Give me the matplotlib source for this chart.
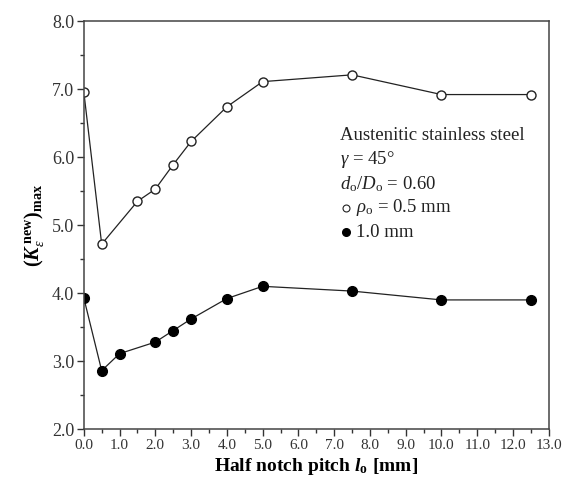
import matplotlib

matplotlib.use("Agg")
import matplotlib.pyplot as plt
from matplotlib.ticker import MultipleLocator, FormatStrFormatter

plt.rcParams["font.family"] = ["Liberation Serif", "DejaVu Serif"]
plt.rcParams["mathtext.fontset"] = "custom"
plt.rcParams["mathtext.rm"] = "Liberation Serif"
plt.rcParams["mathtext.it"] = "Liberation Serif:italic"
plt.rcParams["mathtext.bf"] = "Liberation Serif:bold"
plt.rcParams["mathtext.bfit"] = "Liberation Serif:bold:italic"

# rho_o = 0.5 mm (open circles)
pitch_05 = [0.0, 0.5, 1.5, 2.0, 2.5, 3.0, 4.0, 5.0, 7.5, 10.0, 12.5]
kmax_05 = [6.96, 4.72, 5.35, 5.53, 5.89, 6.23, 6.74, 7.11, 7.21, 6.92, 6.92]

# rho_o = 1.0 mm (filled circles)
pitch_10 = [0.0, 0.5, 1.0, 2.0, 2.5, 3.0, 4.0, 5.0, 7.5, 10.0, 12.5]
kmax_10 = [3.93, 2.86, 3.11, 3.28, 3.45, 3.62, 3.92, 4.10, 4.03, 3.90, 3.90]

note_lines = [
    "Austenitic stainless steel",
    r"$\gamma$ = 45°",
    r"$d_{\rm o}/D_{\rm o}$ = 0.60",
    r"$\rho_{\rm o}$ = 0.5 mm",
    "1.0 mm",
]

fig = plt.figure(figsize=(5.74, 4.8), dpi=100)
ax = fig.add_axes([0.146, 0.106, 0.81, 0.85])

ax.plot(pitch_05, kmax_05, color="#222222", linewidth=0.9, marker="o",
        markersize=6.5, markerfacecolor="white", markeredgecolor="#222222",
        markeredgewidth=1.0)
ax.plot(pitch_10, kmax_10, color="#222222", linewidth=0.9, marker="o",
        markersize=7, markerfacecolor="black", markeredgecolor="black")

ax.set_xlim(0, 13)
ax.set_ylim(2, 8)
ax.xaxis.set_major_locator(MultipleLocator(1.0))
ax.xaxis.set_minor_locator(MultipleLocator(0.5))
ax.yaxis.set_major_locator(MultipleLocator(1.0))
ax.yaxis.set_minor_locator(MultipleLocator(0.5))
ax.xaxis.set_major_formatter(FormatStrFormatter("%.1f"))
ax.yaxis.set_major_formatter(FormatStrFormatter("%.1f"))
ax.tick_params(which="both", direction="out", top=False, right=False,
               colors="#333333", width=1.0)
ax.tick_params(axis="x", labelsize=11)
ax.tick_params(axis="y", labelsize=13)
ax.tick_params(which="major", length=5, pad=2)
ax.tick_params(which="minor", length=3)
for spine in ax.spines.values():
    spine.set_linewidth(1.1)
    spine.set_color("#444444")

ax.set_xlabel(r"Half notch pitch $\mathbfit{l}_{\mathbf{o}}$ [mm]",
              fontsize=14, fontweight="bold")
ax.xaxis.set_label_coords(0.5, -0.066)
ax.set_ylabel(r"$\mathbf{(}\mathbfit{K}_{\epsilon}^{\ \mathbf{new}}\mathbf{)}_{\mathbf{max}}$",
              fontsize=14.5, labelpad=4)

y0 = 0.719
step = 0.059
for i, line in enumerate(note_lines):
    x = 0.55
    if i >= 3:
        x = 0.585
    ax.text(x, y0 - i * step, line, transform=ax.transAxes, fontsize=13.5,
            va="center", ha="left", color="#222222")
ax.plot([0.563], [y0 - 3 * step], transform=ax.transAxes, marker="o",
        markersize=5, markerfacecolor="white", markeredgecolor="#222222",
        markeredgewidth=0.8, linestyle="none")
ax.plot([0.563], [y0 - 4 * step], transform=ax.transAxes, marker="o",
        markersize=5.5, markerfacecolor="black", markeredgecolor="black",
        linestyle="none")

fig.savefig("out.png", dpi=100)
